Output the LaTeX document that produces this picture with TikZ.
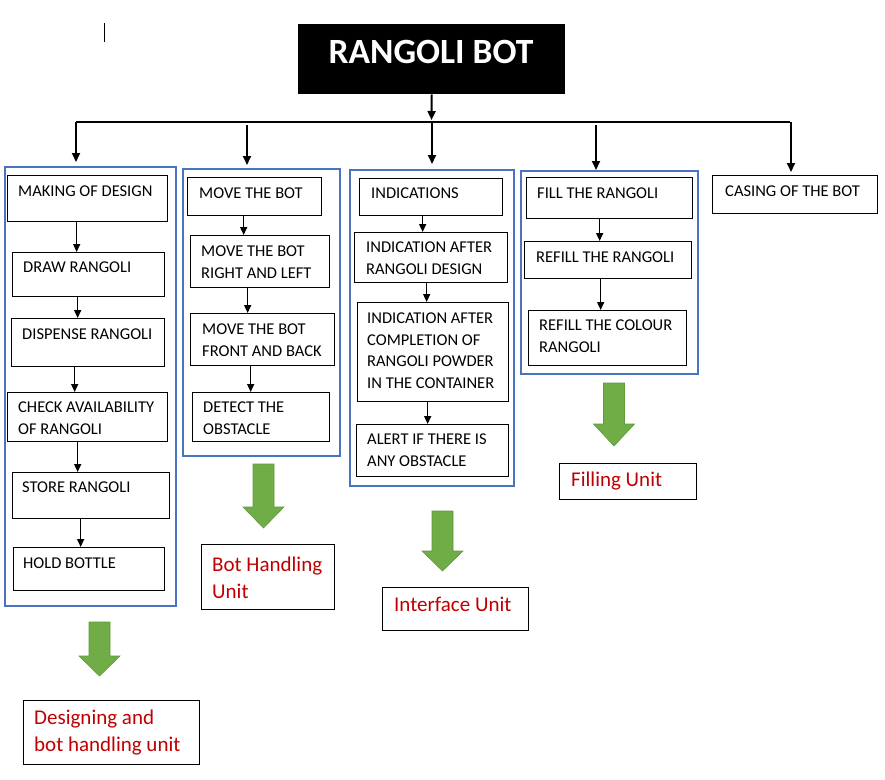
\documentclass[tikz,border=0pt]{standalone}
\usepackage{fontspec}
\setmainfont{Carlito}
\usetikzlibrary{arrows.meta,calc}
\definecolor{bluec}{HTML}{4A74C0}
\definecolor{greenc}{HTML}{70AD47}
\definecolor{greendk}{HTML}{5E9A3A}
\definecolor{redc}{HTML}{C00000}
\newcommand\greenarrow[4]{% center x, top, head start, tip
  \draw[garr] (#1-10.5,#2) -- (#1+10.5,#2) -- (#1+10.5,#3) -- (#1+20.5,#3) -- (#1,#4) -- (#1-20.5,#3) -- (#1-10.5,#3) -- cycle;}
\begin{document}
\begin{tikzpicture}[x=1pt,y=-1pt,
 bx/.style={draw=black, line width=1.3pt, anchor=north west, inner sep=0pt, rectangle},
 tx/.style={anchor=north west, inner sep=0pt, align=left, font=\fontsize{16.5}{21.5}\selectfont},
 rd/.style={anchor=north west, inner sep=0pt, align=left, text=redc, font=\fontsize{21}{27}\selectfont},
 grp/.style={draw=bluec, line width=2pt, anchor=north west, inner sep=0pt, rectangle},
 arr/.style={line width=1.9pt, -{Triangle[length=9pt,width=8pt]}},
 arrs/.style={line width=1.5pt, -{Triangle[length=8pt,width=7pt]}},
 garr/.style={fill=greenc, draw=greendk, line width=0.6pt},
]
\useasboundingbox (0,0) rectangle (885,779);
\fill[white] (0,0) rectangle (885,779);

% cursor mark
\draw[line width=0.9pt] (104,23) -- (104,42);

% title
\node[fill=black, anchor=north west, inner sep=0pt, minimum width=267pt, minimum height=70pt] (title) at (298,24) {};
\node[anchor=base, inner sep=0pt, text=white, font=\fontsize{35.5}{40}\selectfont\bfseries] (titleT) at (431,63) {RANGOLI BOT};

% bus
\coordinate (busL) at (76,122);
\coordinate (busR) at (790,122);
\coordinate (busM) at (431.5,122);
\draw[line width=2.6pt] (busL) -- (busR);
\draw[arr] (title.south) -- ([yshift=2pt]busM);

% groups
\node[grp, minimum width=171pt, minimum height=439pt] (g1) at (4,166) {};
\node[grp, minimum width=157pt, minimum height=287pt] (g2) at (182,168) {};
\node[grp, minimum width=164pt, minimum height=316pt] (g3) at (349,169) {};
\node[grp, minimum width=177pt, minimum height=203pt] (g4) at (520,170) {};

% drop arrows
\coordinate (d2) at (247,125);
\coordinate (d3) at (432,122);
\coordinate (d4) at (596,125);
\coordinate (d5) at (791,122);
\draw[arr, shorten >=4pt] (busL) -- (busL |- g1.north);
\draw[arr, shorten >=3pt] (d2) -- (d2 |- g2.north);
\draw[arr, shorten >=5pt] (d3) -- (d3 |- g3.north);
\draw[arr] (d4) -- (d4 |- g4.north);

% group 1
\node[bx, minimum width=160pt, minimum height=46pt] (mk) at (7,175) {};
\node[tx] (mkT) at (18,186) {MAKING OF DESIGN};
\node[bx, minimum width=152pt, minimum height=44pt] (dr) at (12,252) {};
\node[tx] (drT) at (23,262) {DRAW RANGOLI};
\node[bx, minimum width=153pt, minimum height=48pt] (ds) at (11,318) {};
\node[tx] (dsT) at (22,329) {DISPENSE RANGOLI};
\node[bx, minimum width=160pt, minimum height=49pt] (ch) at (7,392) {};
\node[tx] (chT) at (18,402) {CHECK AVAILABILITY\\OF RANGOLI};
\node[bx, minimum width=157pt, minimum height=46pt] (st) at (12,472) {};
\node[tx] (stT) at (22,482) {STORE RANGOLI};
\node[bx, minimum width=151pt, minimum height=43pt] (hb) at (13,547) {};
\node[tx] (hbT) at (23,558) {HOLD BOTTLE};
\draw[arrs] ([xshift=-11pt]mk.south) -- ([xshift=-11pt]mk.south |- dr.north);
\draw[arrs] ([xshift=-11pt]dr.south) -- ([xshift=-11pt]dr.south |- ds.north);
\draw[arrs] ([xshift=-13.5pt]ds.south) -- ([xshift=-13.5pt]ds.south |- ch.north);
\draw[arrs] ([xshift=-10pt]ch.south) -- ([xshift=-10pt]ch.south |- st.north);
\draw[arrs] ([xshift=-10.5pt]st.south) -- ([xshift=-10.5pt]st.south |- hb.north);

% group 2
\node[bx, minimum width=134pt, minimum height=38pt] (mb) at (187,177) {};
\node[tx] (mbT) at (199,188) {MOVE THE BOT};
\node[bx, minimum width=139pt, minimum height=52pt] (rl) at (190,235) {};
\node[tx] (rlT) at (201,246) {MOVE THE BOT\\RIGHT AND LEFT};
\node[bx, minimum width=144pt, minimum height=52pt] (fb) at (190,313) {};
\node[tx] (fbT) at (202,324) {MOVE THE BOT\\FRONT AND BACK};
\node[bx, minimum width=137pt, minimum height=49pt] (dt) at (192,392) {};
\node[tx] (dtT) at (203,402) {DETECT THE\\OBSTACLE};
\draw[arrs] ([xshift=-11pt]mb.south) -- ([xshift=-11pt]mb.south |- rl.north);
\draw[arrs] ([xshift=-12.5pt]rl.south) -- ([xshift=-12.5pt]rl.south |- fb.north);
\draw[arrs] ([xshift=-12pt]fb.south) -- ([xshift=-12pt]fb.south |- dt.north);

% group 3
\node[bx, minimum width=143pt, minimum height=37pt] (in) at (359,178) {};
\node[tx] (inT) at (371,188) {INDICATIONS};
\node[bx, minimum width=153pt, minimum height=50pt] (ia) at (354,232) {};
\node[tx] (iaT) at (366,242) {INDICATION AFTER\\RANGOLI DESIGN};
\node[bx, minimum width=151pt, minimum height=99pt] (ic) at (357,302) {};
\node[tx] (icT) at (367,313) {INDICATION AFTER\\COMPLETION OF\\RANGOLI POWDER\\IN THE CONTAINER};
\node[bx, minimum width=152pt, minimum height=52pt] (al) at (356,424) {};
\node[tx] (alT) at (367,434) {ALERT IF THERE IS\\ANY OBSTACLE};
\draw[arrs] ([xshift=-8.5pt]in.south) -- ([xshift=-8.5pt]in.south |- ia.north);
\draw[arrs] ([xshift=-4.5pt]ia.south) -- ([xshift=-4.5pt]ia.south |- ic.north);
\draw[arrs] ([xshift=-5.5pt]ic.south) -- ([xshift=-5.5pt]ic.south |- al.north);

% group 4
\node[bx, minimum width=166pt, minimum height=41pt] (fi) at (526,177) {};
\node[tx] (fiT) at (537,188) {FILL THE RANGOLI};
\node[bx, minimum width=167pt, minimum height=37pt] (re) at (524,241) {};
\node[tx] (reT) at (536,252) {REFILL THE RANGOLI};
\node[bx, minimum width=158pt, minimum height=55pt] (co) at (528,310) {};
\node[tx] (coT) at (539,320) {REFILL THE COLOUR\\RANGOLI};
\draw[arrs] ([xshift=-10pt]fi.south) -- ([xshift=-10pt]fi.south |- re.north);
\draw[arrs] ([xshift=-7.5pt]re.south) -- ([xshift=-7.5pt]re.south |- co.north);

% casing
\node[bx, minimum width=165pt, minimum height=38pt] (ca) at (712,175) {};
\node[tx] (caT) at (725,186) {CASING OF THE BOT};
\draw[arr, shorten >=3pt] (d5) -- (d5 |- ca.north);

% green arrows
\greenarrow{99.5}{622}{656}{676}
\greenarrow{263.5}{464}{507}{528}
\greenarrow{442.5}{511}{551}{571}
\greenarrow{614}{383}{424}{446}

% unit labels
\node[bx, minimum width=133pt, minimum height=65pt] (bh) at (201,544) {};
\node[rd] (bhT) at (212,557) {Bot Handling\\Unit};
\node[bx, minimum width=146pt, minimum height=43pt] (iu) at (382,587) {};
\node[rd] (iuT) at (394,597) {Interface Unit};
\node[bx, minimum width=137pt, minimum height=36pt] (fu) at (559,463) {};
\node[rd] (fuT) at (571,472) {Filling Unit};
\node[bx, minimum width=176pt, minimum height=64pt] (du) at (23,700) {};
\node[rd] (duT) at (34,710) {Designing and\\bot handling unit};
\end{tikzpicture}
\end{document}
